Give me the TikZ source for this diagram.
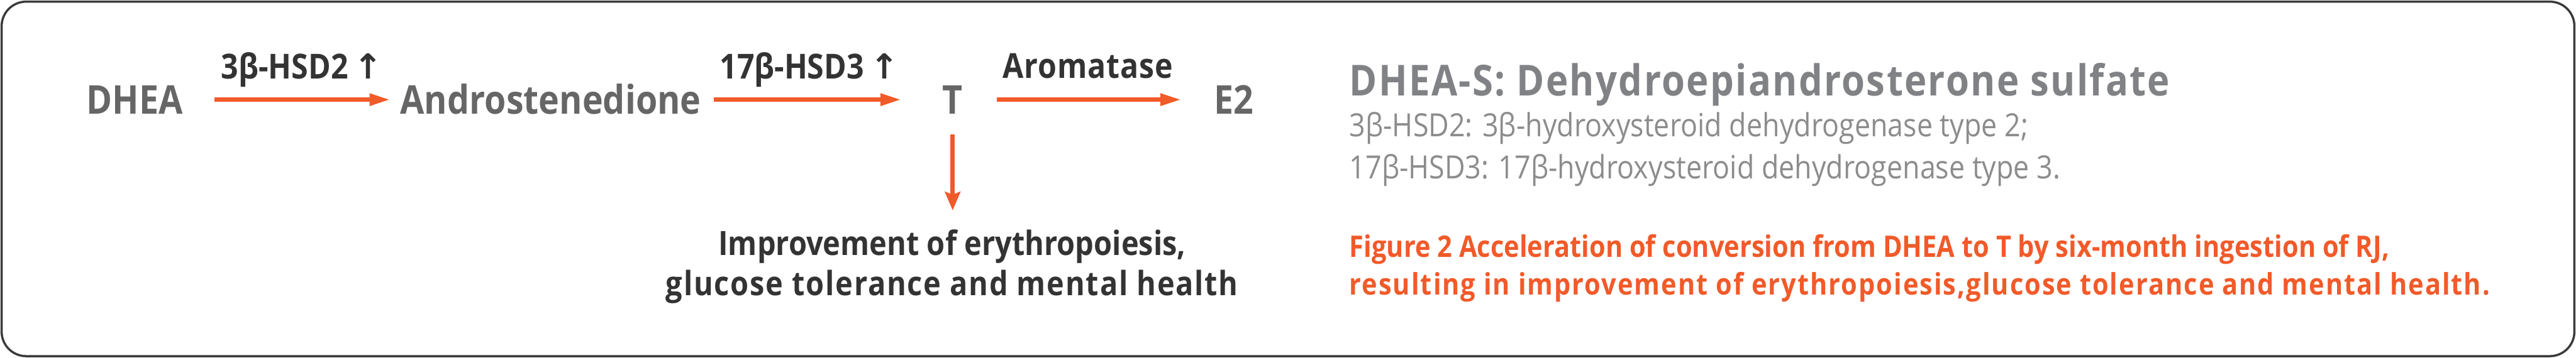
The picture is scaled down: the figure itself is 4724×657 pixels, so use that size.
\documentclass[tikz,border=0pt]{standalone}
\usepackage{fontspec}
\setmainfont[FakeStretch=0.88]{Open Sans}
\newfontfamily\arrowfont{DejaVu Sans}
\usepackage{tikz}
\usetikzlibrary{arrows.meta,positioning}
\definecolor{rjorange}{RGB}{241,90,41}
\definecolor{rjdark}{RGB}{51,51,51}
\definecolor{rjgrey}{RGB}{102,102,102}
\definecolor{rjtitle}{RGB}{128,130,133}
\definecolor{rjlight}{RGB}{140,140,142}
\definecolor{rjframe}{RGB}{58,58,58}

\begin{document}
\begin{tikzpicture}[x=0.01cm, y=-0.01cm,
    species/.style={inner sep=0pt, text=rjgrey, anchor=base,
        font=\fontsize{20.7}{24}\selectfont\bfseries, text height=14.8pt, text depth=0pt},
    enzyme/.style={inner sep=0pt, text=rjdark, anchor=base,
        font=\fontsize{18}{22}\selectfont\bfseries},
    effect/.style={inner sep=0pt, text=rjdark, anchor=base, align=center,
        font=\fontsize{17.5}{21}\selectfont\bfseries},
    note/.style={inner sep=0pt, anchor=base west},
    conv/.style={draw=rjorange, line width=2.3pt,
        -{Triangle[length=10.8pt, width=6pt]}},
    down/.style={draw=rjorange, line width=2.3pt,
        -{Stealth[length=9.7pt, width=8pt, inset=1.5pt]}}
]
\useasboundingbox (0,0) rectangle (4724,657);
\draw[rjframe, line width=1.14pt, rounded corners=0.45cm] (3,3) rectangle (4721,654);

\node[species] (dhea) at (247,209) {DHEA};
\node[species] (andro) at (1010,209) {Androstenedione};
\node[species] (testo) at (1747,209) {T};
\node[species] (estra) at (2263,209) {E2};

\node[enzyme] (hsd2) at (554,145) {3β-HSD2{\arrowfont\,↑}};
\node[enzyme] (hsd3) at (1484,145) {17β-HSD3{\arrowfont\,↑}};
\node[enzyme] (arom) at (1995,144) {\addfontfeature{LetterSpace=1.5}Aromatase};

\node[effect] (improve) at (1746,543) {Improvement of erythropoiesis,\\{\addfontfeature{LetterSpace=3.3}glucose tolerance and mental health}};

\draw[conv, shorten <=0.57cm, shorten >=0.18cm] (dhea.east) -- (andro.west);
\draw[conv, shorten <=0.23cm, shorten >=0.75cm] (andro.east) -- (testo.west);
\draw[conv, shorten <=0.62cm, shorten >=0.60cm] (testo.east) -- (estra.west);
\draw[down, shorten <=0.37cm, shorten >=0.35cm] (testo.south) -- (testo.south |- improve.north);

\node[note, text=rjtitle, font=\fontsize{22.3}{26}\selectfont\bfseries] (title) at (2474,176) {\addfontfeature{LetterSpace=3.4}DHEA-S: Dehydroepiandrosterone sulfate};
\node[note, text=rjlight, font=\fontsize{16.7}{20}\selectfont] (def2) at (2474,251) {3β-HSD2: 3β-hydroxysteroid dehydrogenase type 2;};
\node[note, text=rjlight, font=\fontsize{16.7}{20}\selectfont] (def3) at (2474,328) {17β-HSD3: 17β-hydroxysteroid dehydrogenase type 3.};
\node[note, text=rjorange, font=\fontsize{15.5}{19}\selectfont\bfseries] (cap1) at (2474,472) {Figure 2 Acceleration of conversion from DHEA to T by six-month ingestion of RJ,};
\node[note, text=rjorange, font=\fontsize{15.5}{19}\selectfont\bfseries] (cap2) at (2474,542) {\addfontfeature{LetterSpace=4.2}resulting in improvement of erythropoiesis,glucose tolerance and mental health.};
\end{tikzpicture}
\end{document}
